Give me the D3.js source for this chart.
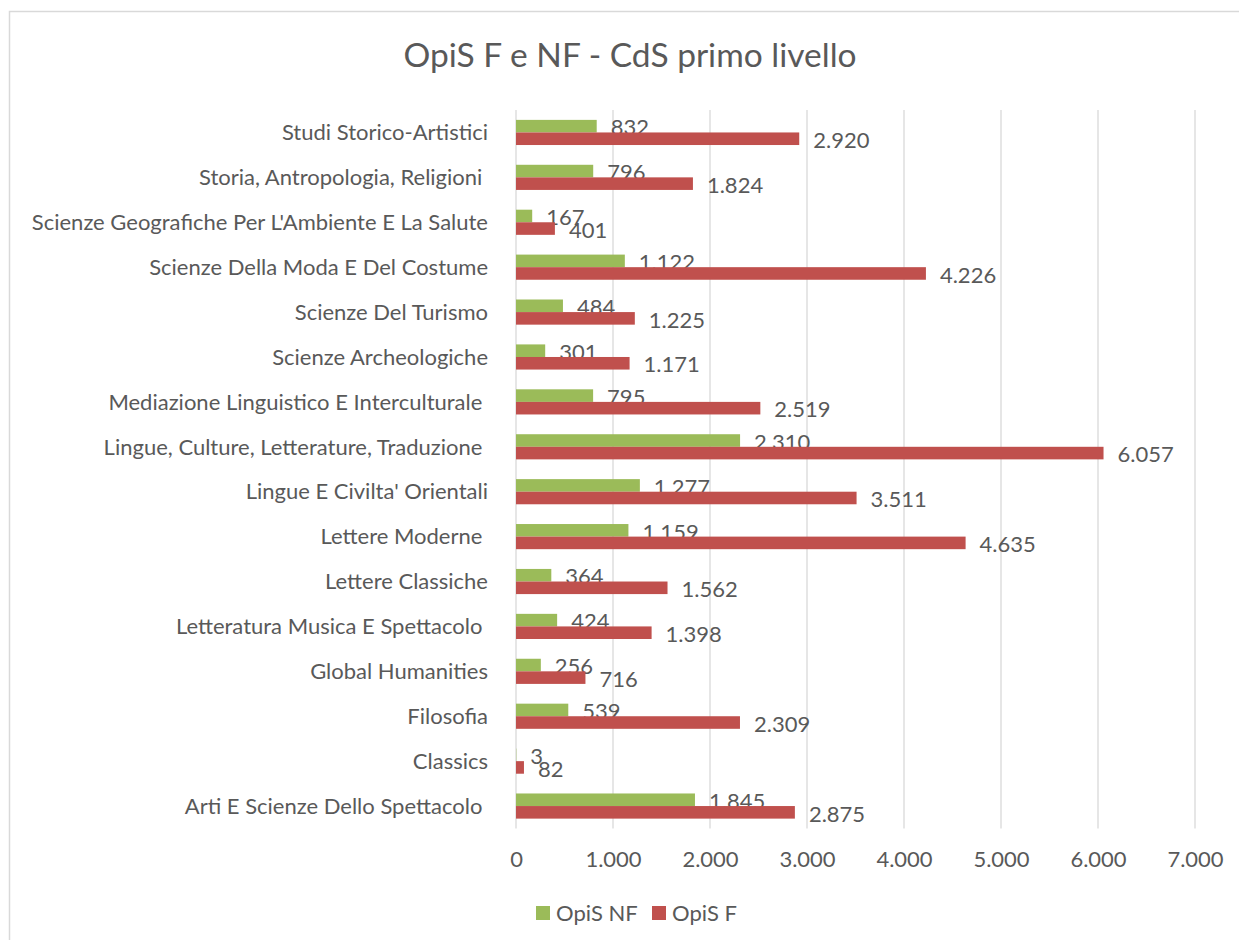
<!DOCTYPE html>
<html>
<head>
<meta charset="utf-8">
<script src="https://cdn.jsdelivr.net/npm/d3@7"></script>
<style>
  html, body { margin: 0; padding: 0; background: #fff; }
  svg text { font-family: Lato, "Open Sans", sans-serif; fill: #595959; white-space: pre; }
</style>
</head>
<body>
<svg id="chart" width="1239" height="940"></svg>
<script>
const categories = [
  "Studi Storico-Artistici",
  "Storia, Antropologia, Religioni ",
  "Scienze Geografiche Per L'Ambiente E La Salute",
  "Scienze Della Moda E Del Costume",
  "Scienze Del Turismo",
  "Scienze Archeologiche",
  "Mediazione Linguistico E Interculturale ",
  "Lingue, Culture, Letterature, Traduzione ",
  "Lingue E Civilta' Orientali",
  "Lettere Moderne ",
  "Lettere Classiche",
  "Letteratura Musica E Spettacolo ",
  "Global Humanities",
  "Filosofia",
  "Classics",
  "Arti E Scienze Dello Spettacolo "
];
const opisNF = [832, 796, 167, 1122, 484, 301, 795, 2310, 1277, 1159, 364, 424, 256, 539, 3, 1845];
const opisF  = [2920, 1824, 401, 4226, 1225, 1171, 2519, 6057, 3511, 4635, 1562, 1398, 716, 2309, 82, 2875];
const seriesNames = ["OpiS NF", "OpiS F"];
const seriesColors = ["#9BBB59", "#C0504D"];
const xTicks = [0, 1000, 2000, 3000, 4000, 5000, 6000, 7000];
const title = "OpiS F e NF - CdS primo livello";

const locale = d3.formatLocale({decimal: ",", thousands: ".", grouping: [3], currency: ["€", ""]});
const fmt = locale.format(",d");
const FS = 22;

const svg = d3.select("#chart");
svg.append("rect").attr("x", 9.5).attr("y", 11.5).attr("width", 1240).attr("height", 940)
  .attr("fill", "#fff").attr("stroke", "#D9D9D9").attr("stroke-width", 1.5);

const plot = {left: 516, right: 1195, top: 110, bottom: 828.5};
const x = d3.scaleLinear().domain([0, 7000]).range([plot.left, plot.right]);
const y = d3.scaleBand().domain(categories).range([plot.top, plot.bottom]).paddingInner(0.44).paddingOuter(0.22);
const ySub = d3.scaleBand().domain(seriesNames).range([0, y.bandwidth()]);

svg.append("text").attr("x", 630).attr("y", 67).attr("text-anchor", "middle")
  .attr("font-size", 33.5).text(title);

// gridlines
svg.append("g").selectAll("line").data(xTicks).join("line")
  .attr("x1", d => x(d)).attr("x2", d => x(d))
  .attr("y1", plot.top).attr("y2", plot.bottom)
  .attr("stroke", "#D9D9D9").attr("stroke-width", 1.3);

// x axis tick labels
const xAxis = d3.axisBottom(x).tickValues(xTicks).tickFormat(fmt).tickSize(0).tickPadding(0);
const gx = svg.append("g").attr("transform", `translate(0,${plot.bottom})`).call(xAxis);
gx.select(".domain").remove();
gx.selectAll("text").attr("font-size", FS).attr("y", 31).attr("dy", "0.35em").attr("fill", "#595959").style("font-family", "Lato, sans-serif");

// y axis labels
const yAxis = d3.axisLeft(y).tickSize(0).tickPadding(0);
const gy = svg.append("g").attr("transform", `translate(488,0)`).call(yAxis);
gy.select(".domain").remove();
gy.selectAll("text").attr("font-size", FS).attr("dy", "0.35em").attr("fill", "#595959").style("font-family", "Lato, sans-serif");

const series = [opisNF, opisF];
series.forEach((vals, si) => {
  const g = svg.append("g");
  g.selectAll("rect").data(vals).join("rect")
    .attr("x", x(0))
    .attr("y", (d, i) => y(categories[i]) + ySub(seriesNames[si]))
    .attr("width", d => x(d) - x(0))
    .attr("height", ySub.bandwidth())
    .attr("fill", seriesColors[si]);
  g.selectAll("text").data(vals).join("text")
    .attr("x", d => x(d) + 14)
    .attr("y", (d, i) => y(categories[i]) + ySub(seriesNames[si]) + ySub.bandwidth() / 2 + 1.5)
    .attr("dy", "0.35em")
    .attr("font-size", FS)
    .text(d => fmt(d));
});

// legend
const legend = svg.append("g");
const legendX = [536, 652];
seriesNames.forEach((name, i) => {
  legend.append("rect").attr("x", legendX[i]).attr("y", 906).attr("width", 14).attr("height", 14).attr("fill", seriesColors[i]);
  legend.append("text").attr("x", legendX[i] + 20).attr("y", 913).attr("dy", "0.35em").attr("font-size", FS).text(name);
});
</script>
</body>
</html>
